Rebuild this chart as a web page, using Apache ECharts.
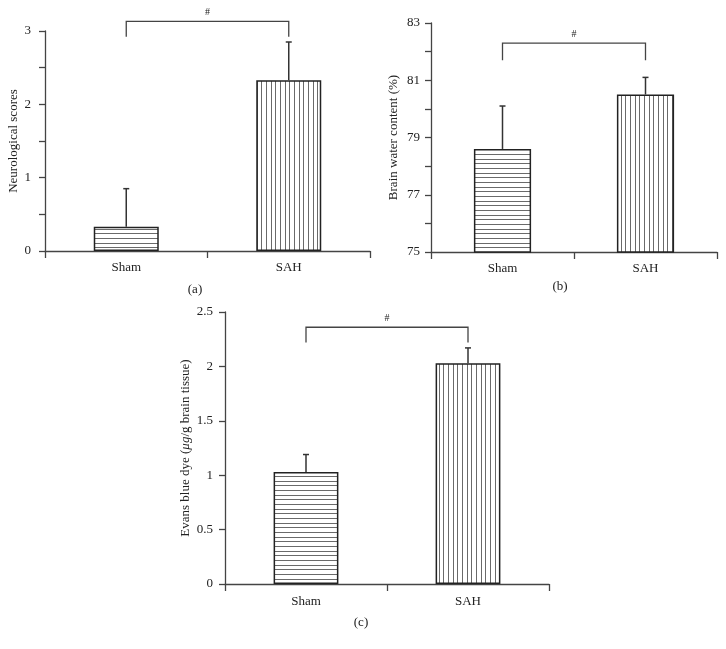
<!DOCTYPE html>
<html>
<head>
<meta charset="utf-8">
<script src="https://cdn.jsdelivr.net/npm/echarts@6/dist/echarts.min.js"></script>
<style>html,body{margin:0;padding:0;background:#fff}#c{width:726px;height:649px}</style>
</head>
<body>
<div id="c"></div>
<script>
// ---- data ----
const categories = ['Sham', 'SAH'];
// (a) Neurological scores
const scoreMean = [0.33, 2.33];
const scoreSD = [0.52, 0.52];
const scoreTicks = [0, 1, 2, 3];
// (b) Brain water content (%)
const waterMean = [78.6, 80.5];
const waterSD = [1.5, 0.6];
const waterTicks = [75, 77, 79, 81, 83];
// (c) Evans blue dye
const evansMean = [1.03, 2.03];
const evansSD = [0.16, 0.14];
const evansTicks = [0, 0.5, 1, 1.5, 2, 2.5];
// significance brackets: [top level, leg level]
const bracketA = [3.13, 2.92];
const bracketB = [82.3, 81.7];
const bracketC = [2.36, 2.22];
const sigMark = '#';

// ---- styles ----
const FONT = 'Liberation Serif';
const TXT = '#222';
const AX = '#444';

function makePattern(horizontal) {
  const cv = document.createElement('canvas');
  const pos = [0, 5, 9];
  if (horizontal) { cv.width = 4; cv.height = 14; } else { cv.width = 14; cv.height = 4; }
  const ctx = cv.getContext('2d');
  ctx.fillStyle = '#fff';
  ctx.fillRect(0, 0, cv.width, cv.height);
  ctx.fillStyle = '#6a6a6a';
  pos.forEach(p => { if (horizontal) ctx.fillRect(0, p, cv.width, 1); else ctx.fillRect(p, 0, 1, cv.height); });
  return { image: cv, repeat: 'repeat' };
}
const hPat = makePattern(true);
const vPat = makePattern(false);

const grids = [
  { left: 45, right: 356, top: 31, height: 220 },
  { left: 431, right: 9, top: 23, height: 229 },
  { left: 225, right: 177, top: 312, height: 272 }
];

function xAx(gi, margin) {
  return {
    type: 'category', gridIndex: gi, data: categories,
    axisLine: { lineStyle: { color: AX, width: 1.3 } },
    axisTick: { show: true, length: 7, lineStyle: { color: AX, width: 1.3 } },
    axisLabel: { color: TXT, fontFamily: FONT, fontSize: 13, margin: margin }
  };
}
function yAx(gi, min, max, interval, ticks, name, nameGap, margin, nameRich) {
  return {
    type: 'value', gridIndex: gi, min: min, max: max, interval: interval,
    splitLine: { show: false },
    axisLine: { show: true, lineStyle: { color: AX, width: 1.3 } },
    axisTick: { show: true, length: 6, lineStyle: { color: AX, width: 1.3 } },
    axisLabel: {
      color: TXT, fontFamily: FONT, fontSize: 13, margin: margin,
      formatter: v => (ticks.some(t => Math.abs(t - v) < 1e-9) ? String(v) : '')
    },
    name: name, nameLocation: 'middle', nameGap: nameGap,
    nameTextStyle: Object.assign({ color: TXT, fontFamily: FONT, fontSize: 13 }, nameRich ? { rich: nameRich } : {})
  };
}

function barSeries(gi, means) {
  return {
    type: 'bar', xAxisIndex: gi, yAxisIndex: gi, barWidth: '40%',
    data: means.map((m, i) => ({ value: m, itemStyle: { color: i === 0 ? hPat : vPat } })),
    itemStyle: { borderColor: '#222', borderWidth: 1.5 },
    z: 2
  };
}
function errSeries(gi, means, sds) {
  return {
    type: 'custom', xAxisIndex: gi, yAxisIndex: gi, z: 3,
    data: means.map((m, i) => [i, m, m + sds[i]]),
    renderItem: function (params, api) {
      const p0 = api.coord([api.value(0), api.value(1)]);
      const p1 = api.coord([api.value(0), api.value(2)]);
      const st = { stroke: '#333', lineWidth: 1.5 };
      return { type: 'group', children: [
        { type: 'line', shape: { x1: p0[0], y1: p0[1], x2: p1[0], y2: p1[1] }, style: st },
        { type: 'line', shape: { x1: p1[0] - 3, y1: p1[1], x2: p1[0] + 3, y2: p1[1] }, style: st }
      ] };
    }
  };
}
function bracketSeries(gi, br) {
  return {
    type: 'custom', xAxisIndex: gi, yAxisIndex: gi, z: 3, clip: false,
    data: [[0, 1, br[0], br[1]]],
    renderItem: function (params, api) {
      const a = api.coord([api.value(0), api.value(3)]);
      const b = api.coord([api.value(0), api.value(2)]);
      const c = api.coord([api.value(1), api.value(2)]);
      const d = api.coord([api.value(1), api.value(3)]);
      return { type: 'group', children: [
        { type: 'polyline', shape: { points: [a, b, c, d] }, style: { stroke: '#444', lineWidth: 1.3, fill: null } },
        { type: 'text', x: (b[0] + c[0]) / 2, y: b[1] - 4,
          style: { text: sigMark, fill: TXT, font: '10px "' + FONT + '"', align: 'center', verticalAlign: 'bottom' } }
      ] };
    }
  };
}

const chart = echarts.init(document.getElementById('c'), null, { renderer: 'canvas' });
chart.setOption({
  animation: false,
  backgroundColor: '#fff',
  grid: grids,
  xAxis: [xAx(0, 10), xAx(1, 10), xAx(2, 11)],
  yAxis: [
    yAx(0, 0, 3, 0.5, scoreTicks, 'Neurological scores', 25, 14),
    yAx(1, 75, 83, 1, waterTicks, 'Brain water content (%)', 31, 11),
    yAx(2, 0, 2.5, 0.5, evansTicks, '{n|Evans blue dye (}{i|μg}{n|/g brain tissue)}', 33, 12,
      { n: { color: TXT, fontFamily: FONT, fontSize: 13 }, i: { color: TXT, fontFamily: FONT, fontSize: 13, fontStyle: 'italic' } })
  ],
  series: [
    barSeries(0, scoreMean), errSeries(0, scoreMean, scoreSD), bracketSeries(0, bracketA),
    barSeries(1, waterMean), errSeries(1, waterMean, waterSD), bracketSeries(1, bracketB),
    barSeries(2, evansMean), errSeries(2, evansMean, evansSD), bracketSeries(2, bracketC)
  ],
  graphic: [
    { type: 'text', x: 195, y: 290, style: { text: '(a)', fill: TXT, font: '13px "' + FONT + '"', align: 'center', verticalAlign: 'middle' } },
    { type: 'text', x: 560, y: 287, style: { text: '(b)', fill: TXT, font: '13px "' + FONT + '"', align: 'center', verticalAlign: 'middle' } },
    { type: 'text', x: 361, y: 623, style: { text: '(c)', fill: TXT, font: '13px "' + FONT + '"', align: 'center', verticalAlign: 'middle' } }
  ]
});
</script>
</body>
</html>
